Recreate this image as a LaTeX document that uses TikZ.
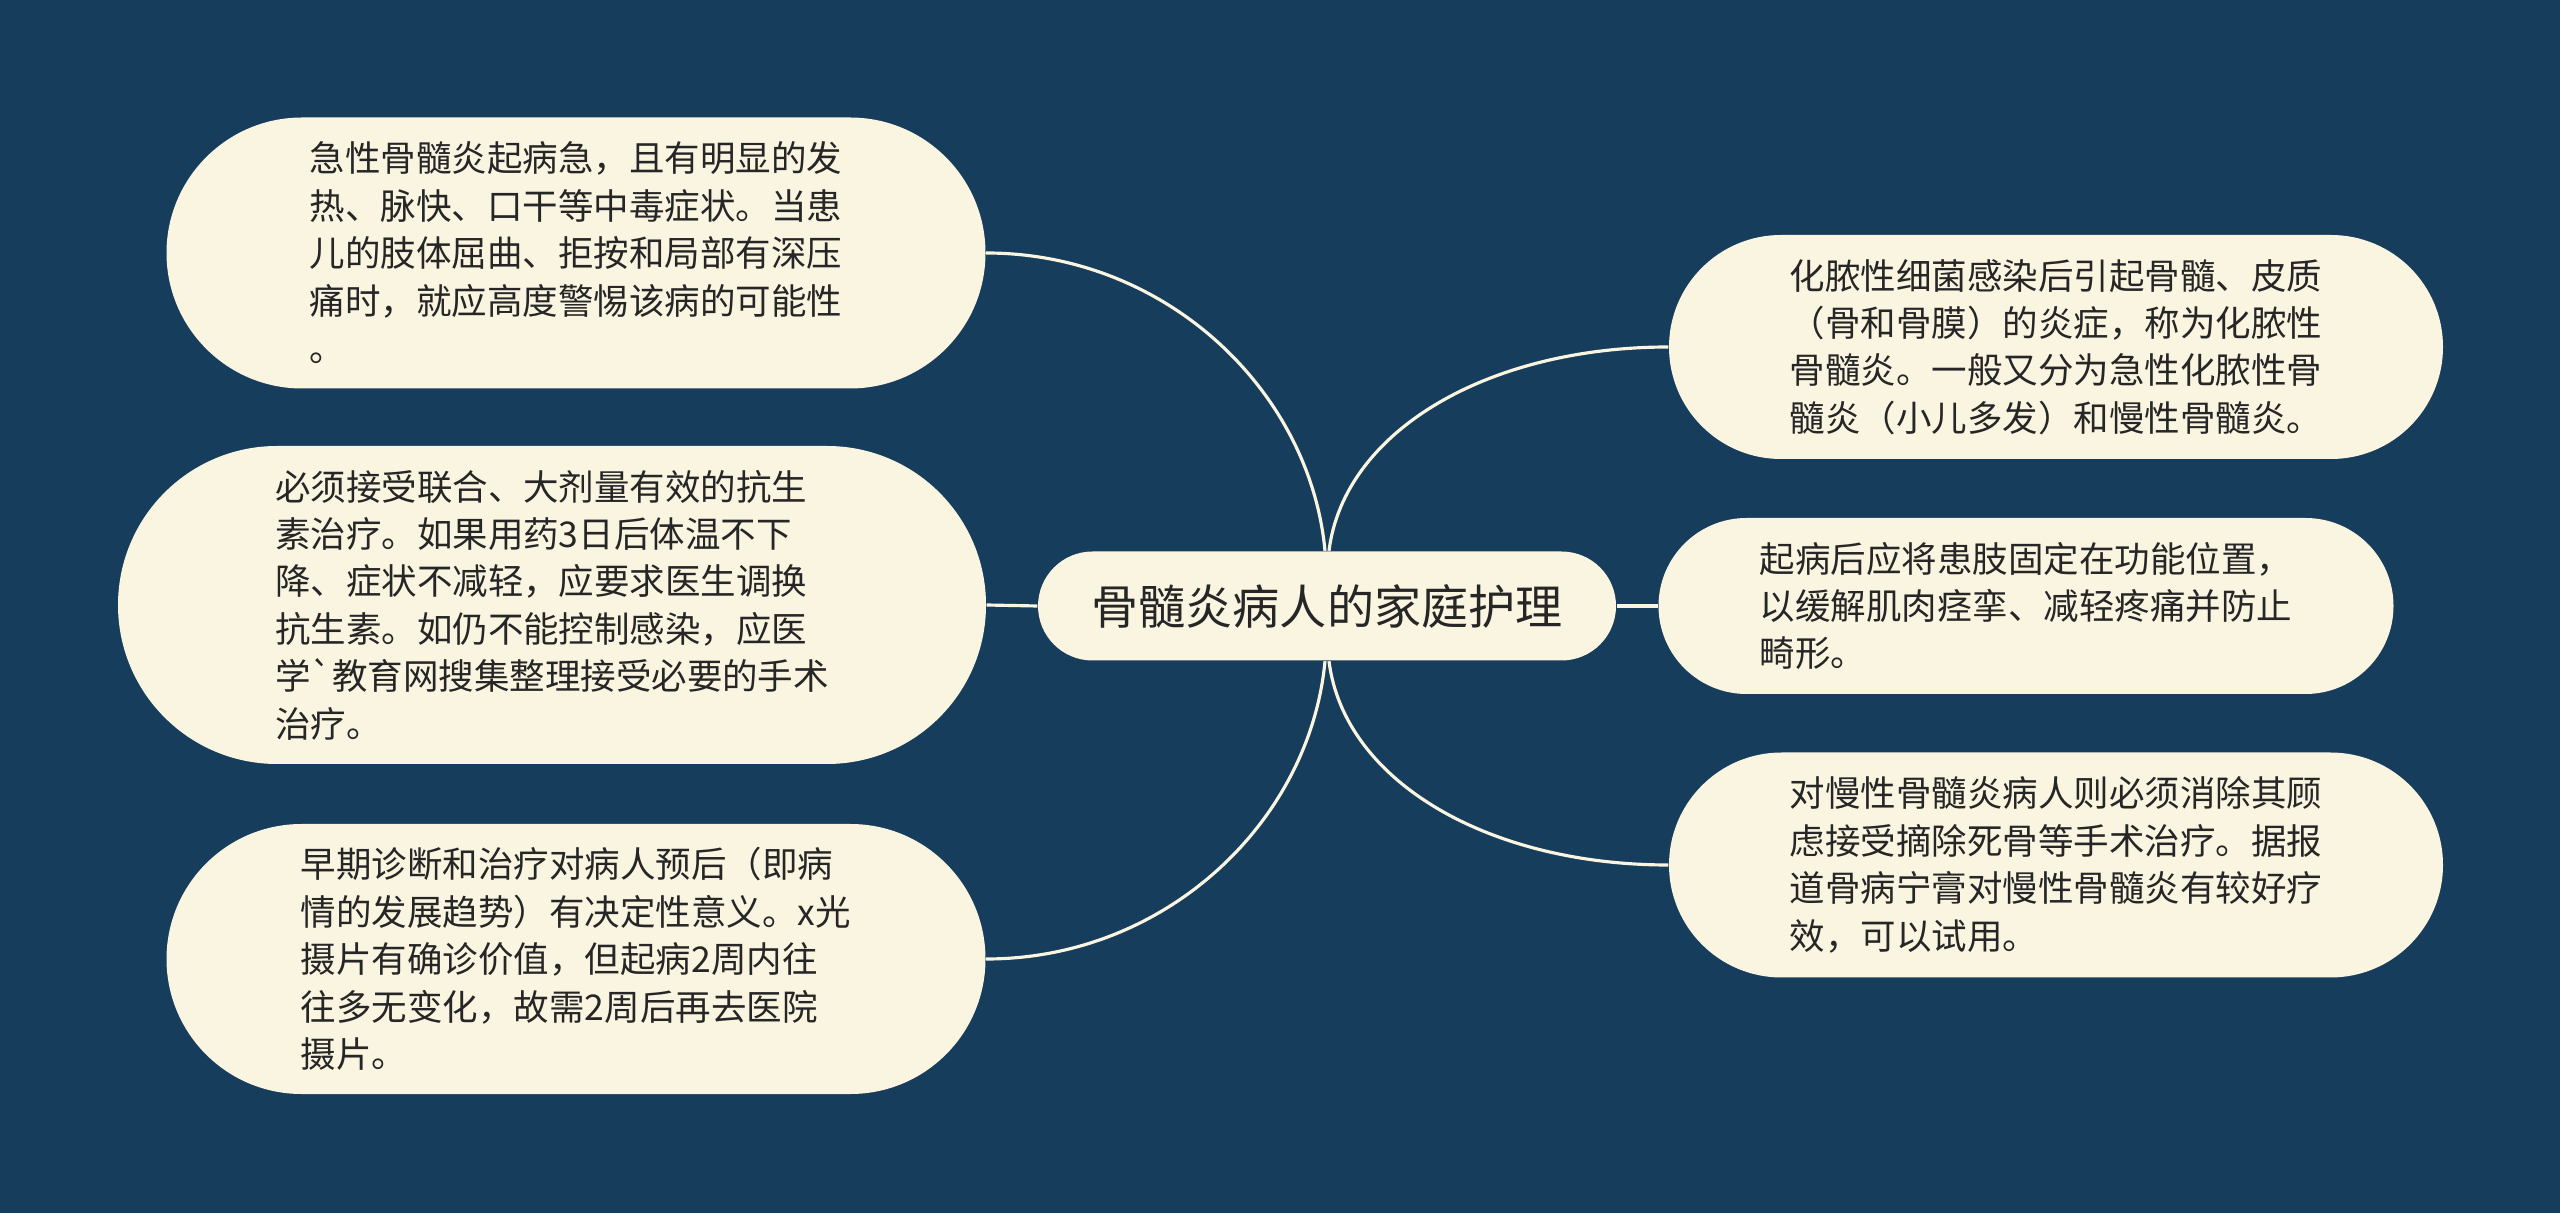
\documentclass[tikz,border=0pt]{standalone}
\usepackage{fontspec}
\newfontfamily\cjk{Noto Sans CJK SC}
\usetikzlibrary{positioning}
\definecolor{bgblue}{RGB}{23,61,92}
\definecolor{cream}{RGB}{250,245,225}
\definecolor{ink}{RGB}{38,38,38}

\begin{document}
\begin{tikzpicture}[
		every node/.append style={text=ink, inner sep=0pt}
		,leaf/.style 2 args={rectangle, fill=cream, align=left, minimum width=#1, minimum height=#2, rounded corners={#2/2}, font=\cjk\fontsize{10.1}{13.5}\selectfont}
		,hub/.style={rectangle, fill=cream, minimum width=5.78cm, minimum height=1.09cm, rounded corners=0.545cm, font=\cjk\fontsize{13.4}{16}\selectfont}
		,link/.style={draw=cream, line width=0.9pt}
	]
		\fill [bgblue] (0,0) rectangle (25.6,-12.13);

		\node [hub] (C) at (13.27,-6.06) {骨髓炎病人的家庭护理};

		% left side
		\node [leaf={8.19cm}{2.71cm}] (L1) at (5.76,-2.53) {急性骨髓炎起病急，且有明显的发\\热、脉快、口干等中毒症状。当患\\儿的肢体屈曲、拒按和局部有深压\\痛时，就应高度警惕该病的可能性\\。};
		\node [leaf={8.68cm}{3.18cm}] (L2) at (5.52,-6.05) {必须接受联合、大剂量有效的抗生\\素治疗。如果用药3日后体温不下\\降、症状不减轻，应要求医生调换\\抗生素。如仍不能控制感染，应医\\学`教育网搜集整理接受必要的手术\\治疗。};
		\node [leaf={8.19cm}{2.70cm}] (L3) at (5.76,-9.59) {早期诊断和治疗对病人预后（即病\\情的发展趋势）有决定性意义。x光\\摄片有确诊价值，但起病2周内往\\往多无变化，故需2周后再去医院\\摄片。};

		% right side
		\node [leaf={7.74cm}{2.24cm}] (R1) at (20.56,-3.47) {化脓性细菌感染后引起骨髓、皮质\\（骨和骨膜）的炎症，称为化脓性\\骨髓炎。一般又分为急性化脓性骨\\髓炎（小儿多发）和慢性骨髓炎。};
		\node [leaf={7.35cm}{1.76cm}] (R2) at (20.26,-6.06) {起病后应将患肢固定在功能位置，\\以缓解肌肉痉挛、减轻疼痛并防止\\畸形。};
		\node [leaf={7.74cm}{2.25cm}] (R3) at (20.56,-8.65) {对慢性骨髓炎病人则必须消除其顾\\虑接受摘除死骨等手术治疗。据报\\道骨病宁膏对慢性骨髓炎有较好疗\\效，可以试用。};

		\draw [link] (L1.east) .. controls +(1.8,0) and +(-0.15,1.6) .. ([xshift=-0.02cm]C.north);
		\draw [link] (L2.east) -- (C.west);
		\draw [link] (L3.east) .. controls +(1.8,0) and +(-0.15,-1.6) .. ([xshift=-0.02cm]C.south);
		\draw [link] (R1.west) .. controls +(-1.8,0) and +(0.15,1.2) .. ([xshift=0.02cm]C.north);
		\draw [link] (C.east) -- (R2.west);
		\draw [link] (R3.west) .. controls +(-1.8,0) and +(0.15,-1.2) .. ([xshift=0.02cm]C.south);
	\end{tikzpicture}
\end{document}
